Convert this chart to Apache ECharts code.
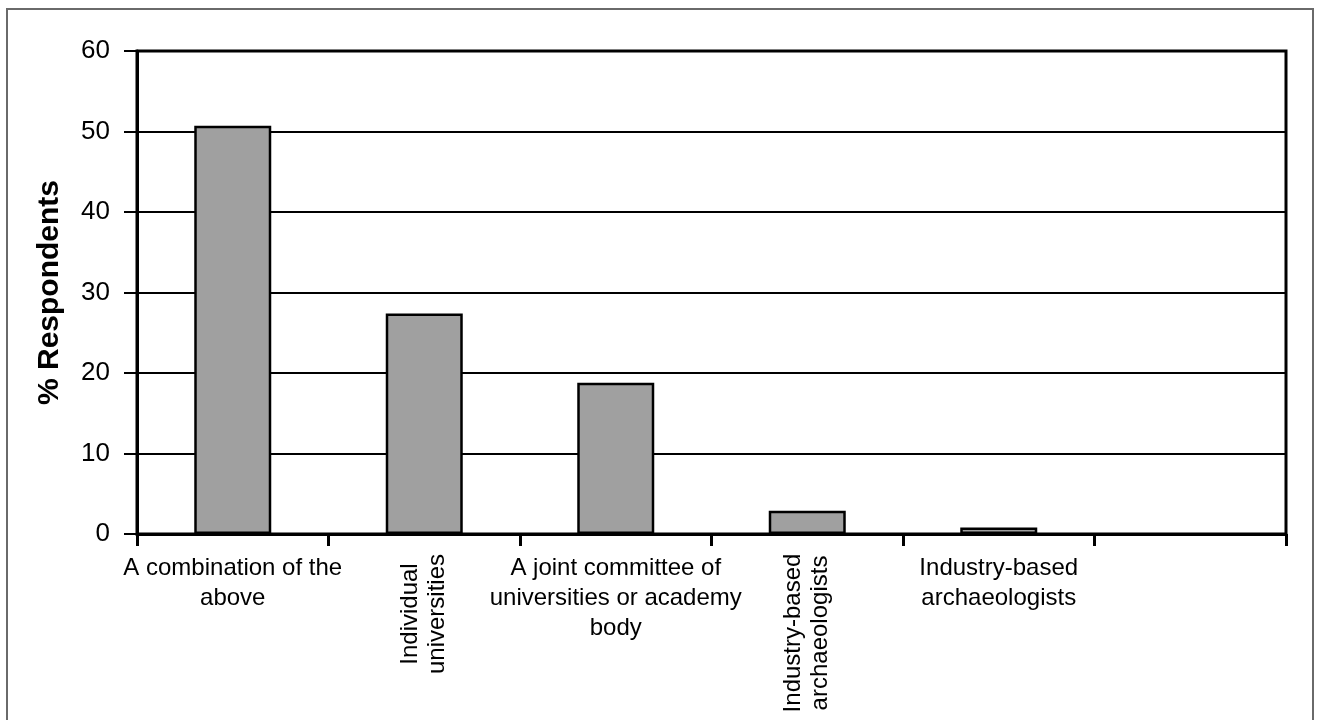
<!DOCTYPE html>
<html><head><meta charset="utf-8">
<script src="https://cdn.jsdelivr.net/npm/echarts@6/dist/echarts.min.js"></script>
<style>html,body{margin:0;padding:0;background:#fff}#c{width:1317px;height:720px}</style>
</head><body><div id="c"></div>
<script>
const categories = ["A combination of the above", "Individual universities", "A joint committee of universities or academy body", "Industry-based archaeologists", "Industry-based archaeologists ", ""];
const tickLabels = [["A combination of the", "above"], ["Individual", "universities"], ["A joint committee of", "universities or academy", "body"], ["Industry-based", "archaeologists"], ["Industry-based", "archaeologists"], []];
const values = [50.7, 27.4, 18.8, 2.9, 0.8, null];
const yMin = 0, yMax = 60, yStep = 10;
const yName = "% Respondents";

const rotatedIdx = [1, 3];
const FONT = "Liberation Sans, Arial, sans-serif";
const chart = echarts.init(document.getElementById('c'), null, {renderer: 'canvas'});
const option = {
  backgroundColor: '#fff',
  animation: false,
  graphic: [{type: 'rect', silent: true, z: -10, shape: {x: 7, y: 9, width: 1306, height: 730},
    style: {fill: 'none', stroke: '#6a6a6a', lineWidth: 2}}],
  grid: {left: 137, right: 31, top: 51, bottom: 186, show: true, borderColor: '#000', borderWidth: 3, backgroundColor: 'transparent'},
  xAxis: [{
    type: 'category', position: 'bottom', data: categories,
    axisLine: {lineStyle: {color: '#000', width: 3}},
    axisTick: {show: true, length: 12, lineStyle: {color: '#000', width: 3}},
    axisLabel: {interval: 0, hideOverlap: false, margin: 19, color: '#000', fontFamily: FONT, fontSize: 24, lineHeight: 30,
      formatter: (v, i) => rotatedIdx.includes(i) ? '' : tickLabels[i].join('\n')}
  }, {
    type: 'category', position: 'bottom', data: categories,
    axisLine: {show: false}, axisTick: {show: false},
    axisLabel: {interval: 0, hideOverlap: false, rotate: 90, margin: 21, color: '#000', fontFamily: FONT, fontSize: 24, lineHeight: 27,
      formatter: (v, i) => rotatedIdx.includes(i) ? tickLabels[i].map(l => '{r' + i + '|' + l + '}').join('\n') : '',
      rich: {
        r1: {width: 118, align: 'center', fontFamily: FONT, fontSize: 24, lineHeight: 27, color: '#000'},
        r3: {width: 156, align: 'center', fontFamily: FONT, fontSize: 24, lineHeight: 27, color: '#000'}
      }}
  }],
  yAxis: {
    type: 'value', min: yMin, max: yMax, interval: yStep,
    name: yName, nameLocation: 'middle', nameGap: 72, nameRotate: 90,
    nameTextStyle: {fontFamily: FONT, fontSize: 30, fontWeight: 'bold', color: '#000'},
    axisLine: {show: true, lineStyle: {color: '#000', width: 3}},
    axisTick: {show: true, length: 13, lineStyle: {color: '#000', width: 2}},
    splitLine: {show: true, lineStyle: {color: '#000', width: 2}},
    axisLabel: {margin: 27, color: '#000', fontFamily: FONT, fontSize: 26}
  },
  series: [{
    type: 'bar', xAxisIndex: 0, data: values, barWidth: 77,
    itemStyle: {color: '#a0a0a0', borderColor: '#000', borderWidth: 2.5}
  }]
};
chart.setOption(option);
</script></body></html>
